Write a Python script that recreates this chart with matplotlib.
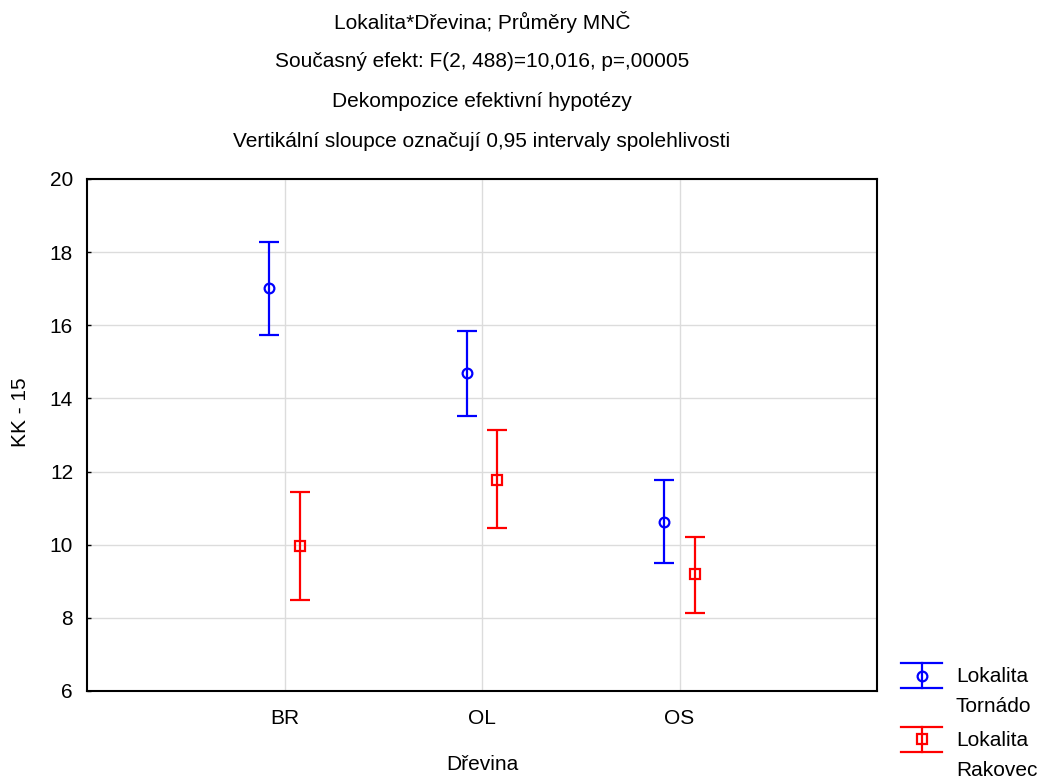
import numpy as np
import matplotlib
matplotlib.use('Agg')
import matplotlib.pyplot as plt
from matplotlib.lines import Line2D

plt.rcParams['font.family'] = ['Liberation Sans', 'DejaVu Sans']

# Data (means and 0.95 CI bounds)
categories = ['BR', 'OL', 'OS']
tornado_mean = [17.02, 14.70, 10.63]
tornado_low = [15.74, 13.52, 9.49]
tornado_high = [18.29, 15.84, 11.77]
rakovec_mean = [9.97, 11.77, 9.20]
rakovec_low = [8.50, 10.47, 8.14]
rakovec_high = [11.43, 13.13, 10.22]
series_labels = ['Lokalita\nTornádo', 'Lokalita\nRakovec']

title_lines = [
    'Lokalita*Dřevina; Průměry MNČ',
    'Současný efekt: F(2, 488)=10,016, p=,00005',
    'Dekompozice efektivní hypotézy',
    'Vertikální sloupce označují 0,95 intervaly spolehlivosti',
]

W, H = 1050, 779
fig = plt.figure(figsize=(W / 100, H / 100), dpi=100)
ax = fig.add_axes([87 / W, 1 - 691 / H, (877 - 87) / W, (691 - 179) / H])

def px(x, y):
    return x / W, 1 - y / H

x = np.arange(len(categories))
off = 0.076
fs = 15

specs = [
    (tornado_mean, tornado_low, tornado_high, '#0000ff', 'o', -off),
    (rakovec_mean, rakovec_low, rakovec_high, '#ff0000', 's', off),
]
for mean, low, high, col, mk, dx in specs:
    mean = np.array(mean)
    err = [mean - np.array(low), np.array(high) - mean]
    ax.errorbar(x + dx, mean, yerr=err, fmt=mk, color=col, ecolor=col,
                elinewidth=1.6, capsize=7, capthick=1.6, markersize=7,
                markerfacecolor='none', markeredgewidth=1.6, zorder=3)

ax.set_xlim(-1, 3)
ax.set_ylim(6, 20)
ax.set_xticks(x)
ax.set_xticklabels(categories)
ax.set_yticks(np.arange(6, 21, 2))
ax.grid(True, color='#dcdcdc', linewidth=1)
ax.set_axisbelow(True)
for s in ax.spines.values():
    s.set_linewidth(1.5)
ax.tick_params(axis='both', direction='in', length=3, width=1, labelsize=fs)
ax.tick_params(axis='x', pad=13, length=0)
ax.tick_params(axis='y', pad=10)

fig.text(*px(482, 765), 'Dřevina', ha='center', va='center', fontsize=fs)
fig.text(*px(21, 412), 'KK - 15', ha='center', va='center', rotation=90, fontsize=fs)

for i, line in enumerate(title_lines):
    fig.text(*px(482, 22 + 39.7 * i), line, ha='center', va='center', fontsize=fs)

# legend drawn by hand at bottom right, outside the axes
for j, (spec, lab) in enumerate(zip(specs, series_labels)):
    col, mk = spec[3], spec[4]
    yc = 675.5 + 63.5 * j
    for yy in (yc - 12.5, yc + 12.5):
        fig.add_artist(Line2D([901 / W, 942 / W], [1 - yy / H] * 2, color=col, lw=1.6,
                              transform=fig.transFigure))
    fig.add_artist(Line2D([921.5 / W] * 2, [1 - (yc - 12.5) / H, 1 - (yc + 12.5) / H],
                          color=col, lw=1.6, transform=fig.transFigure))
    fig.add_artist(Line2D([921.5 / W], [1 - yc / H], marker=mk, color=col, markersize=7,
                          markerfacecolor='none', markeredgewidth=1.6,
                          transform=fig.transFigure))
    l1, l2 = lab.split('\n')
    fig.text(*px(956, yc + 1), l1, ha='left', va='center', fontsize=fs)
    fig.text(*px(956, yc + 31), l2, ha='left', va='center', fontsize=fs)

fig.savefig('out.png', dpi=100)
